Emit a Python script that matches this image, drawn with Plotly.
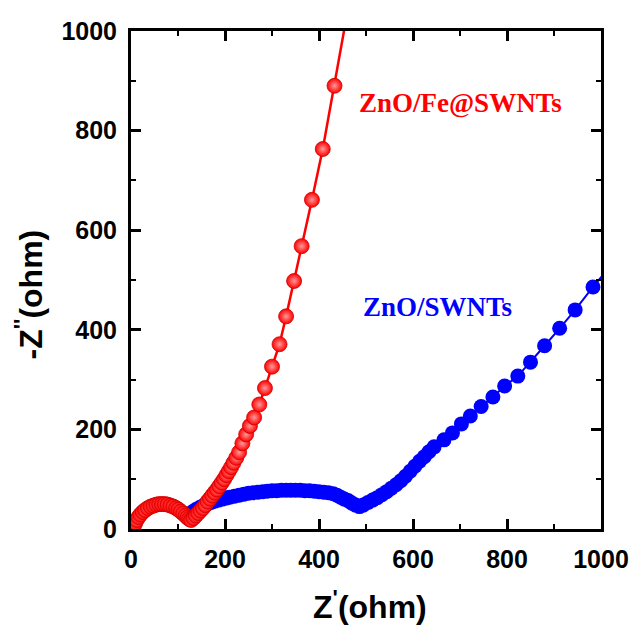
import plotly.graph_objects as go

# Nyquist data: Z' (ohm) vs -Z'' (ohm)
fe_zre = [4, 6, 9, 12, 16, 20, 25, 30, 36, 42, 48, 54, 60, 66, 72, 78, 84, 90, 96,
          101, 106, 111, 116, 120, 124, 128,
          133, 138, 143, 148, 153, 158, 163, 168, 173, 178, 183, 188, 193, 198, 203,
          208, 213, 218, 224, 230, 237, 245, 253, 262, 273, 285, 300, 316, 330, 347,
          363, 385, 408, 433, 457]
fe_zim = [1, 6, 12, 18, 24, 29, 34, 38, 42, 45, 47, 49, 50, 50, 50, 49, 47, 45, 42,
          39, 35, 31, 27, 23, 20, 18,
          22, 27, 32, 37, 42, 48, 55, 61, 67, 73, 79, 86, 93, 100, 108,
          116, 124, 133, 143, 154, 172, 190, 207, 224, 250, 283, 326, 371, 427, 498,
          568, 661, 763, 890, 1020]

bare_zre = [122, 130, 138, 146, 154, 162, 170, 178, 186, 194, 202, 210, 220, 230, 240,
            250, 260, 270, 280, 290, 300, 310, 320, 330, 340, 350, 360, 370, 380, 390,
            400, 410, 420, 430, 438, 446, 454, 462, 470, 478, 486,
            494, 504, 514, 524, 534, 544, 554, 564, 574, 584, 594, 604, 614, 624, 634,
            645, 666, 684, 703, 722, 745, 770, 795, 823, 850, 880, 912, 945, 983, 1022]
bare_zim = [28, 34, 39, 43, 47, 50, 53, 56, 58, 60, 62, 64, 66, 68, 70,
            72, 73, 74, 75, 76, 77, 77, 78, 78, 78, 78, 78, 77, 77, 76,
            75, 74, 73, 71, 68, 64, 60, 57, 52, 48, 45,
            48, 53, 58, 63, 69, 75, 82, 89, 97, 106, 116, 126, 136, 145, 155,
            165, 179, 193, 211, 227, 246, 265, 287, 307, 335, 368, 403, 440, 486, 530]

axis_ticks = [0, 200, 400, 600, 800, 1000]

fig = go.Figure()

fig.add_trace(go.Scatter(
    x=bare_zre, y=bare_zim, mode="lines+markers",
    line=dict(color="#0000ff", width=2),
    marker=dict(color="#0000ff", size=15, line=dict(width=0)),
    showlegend=False,
))

# red spheres: solid body with a radial highlight
fig.add_trace(go.Scatter(
    x=fe_zre, y=fe_zim, mode="lines+markers",
    line=dict(color="#ff0000", width=2.5),
    marker=dict(color="#ff0000", size=15,
                gradient=dict(type="radial", color="#ff9a9a"),
                line=dict(width=0.8, color="#d00000")),
    showlegend=False,
))

tick_font = dict(family="Arial, Liberation Sans, sans-serif", size=25, color="black", weight="bold")

axis_common = dict(
    range=[0, 1000], tickvals=axis_ticks, ticktext=[str(v) for v in axis_ticks],
    showgrid=False, zeroline=False,
    showline=True, linecolor="black", linewidth=3, mirror="allticks",
    ticks="inside", ticklen=10, tickwidth=3, tickcolor="black",
    minor=dict(ticks="inside", ticklen=5, tickwidth=2, tickcolor="black", dtick=100, showgrid=False),
    tickfont=tick_font, ticklabelstandoff=6,
)

fig.update_xaxes(**axis_common)
fig.update_yaxes(**axis_common)

title_font = dict(family="Arial, Liberation Sans, sans-serif", size=32, color="black", weight="bold")
label_font = dict(family="Times New Roman, Liberation Serif, serif", size=27, weight="bold")

fig.add_annotation(text="Z<sup>'</sup>(ohm)", xref="paper", yref="paper",
                   x=0.508, y=-0.153, showarrow=False, font=title_font,
                   xanchor="center", yanchor="middle")
fig.add_annotation(text="-Z<sup>''</sup>(ohm)", xref="paper", yref="paper",
                   x=-0.218, y=0.47, showarrow=False, font=title_font, textangle=-90,
                   xanchor="center", yanchor="middle")

fig.add_annotation(text="ZnO/Fe@SWNTs", x=481, y=855, showarrow=False,
                   font=dict(color="#ff0000", **label_font), xanchor="left", yanchor="middle")
fig.add_annotation(text="ZnO/SWNTs", x=489, y=446, showarrow=False,
                   font=dict(color="#0000ff", **label_font), xanchor="left", yanchor="middle")

fig.update_layout(
    width=641, height=630,
    margin=dict(l=131, r=36, t=31, b=101),
    paper_bgcolor="white", plot_bgcolor="white",
)

fig.write_html("out.html")
